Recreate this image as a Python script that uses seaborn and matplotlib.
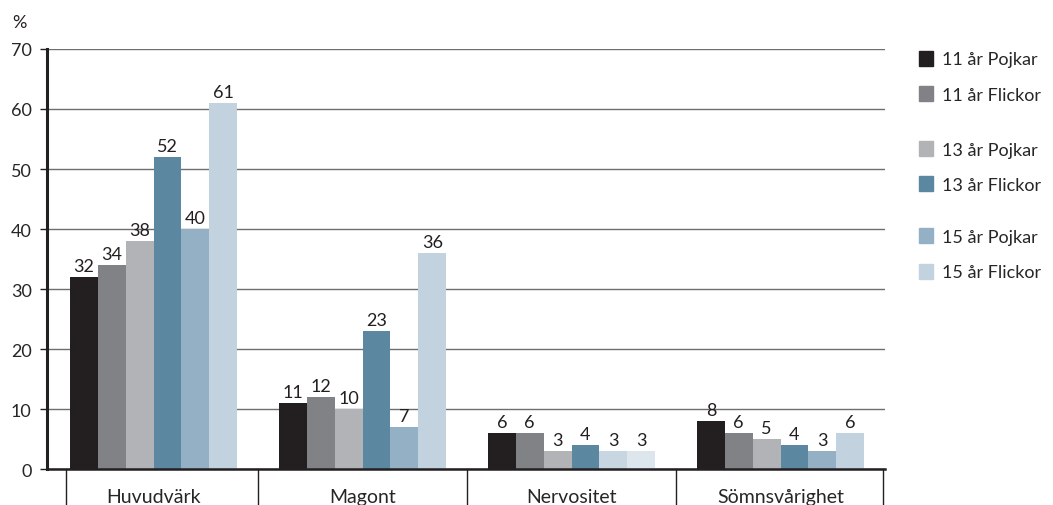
import seaborn as sns
import matplotlib.pyplot as plt
import matplotlib.patches as mpatches
import pandas as pd

# data
categories = ["Huvudvärk", "Magont", "Nervositet", "Sömnsvårighet"]
groups = ["11 år Pojkar", "11 år Flickor", "13 år Pojkar", "13 år Flickor", "15 år Pojkar", "15 år Flickor"]
values = {
    "11 år Pojkar": [32, 11, 6, 8],
    "11 år Flickor": [34, 12, 6, 6],
    "13 år Pojkar": [38, 10, 3, 5],
    "13 år Flickor": [52, 23, 4, 4],
    "15 år Pojkar": [40, 7, 3, 3],
    "15 år Flickor": [61, 36, 3, 6],
}
colors = ["#231f20", "#808285", "#b1b3b6", "#5b87a1", "#94b0c5", "#c2d2df"]

rows = []
for g in groups:
    for c, v in zip(categories, values[g]):
        rows.append({"kategori": c, "grupp": g, "procent": v})
df = pd.DataFrame(rows)

sns.set_style("white")
plt.rcParams["font.family"] = ["Lato", "DejaVu Sans"]

fig = plt.figure(figsize=(10.53, 5.06), dpi=100)
ax = fig.add_axes([0.0446, 0.0711, 0.7959, 0.8301])

sns.barplot(data=df, x="kategori", y="procent", hue="grupp", order=categories,
            hue_order=groups, palette=colors, width=0.8, saturation=1,
            linewidth=0, legend=False, ax=ax)

# the Nervositet 15 år bars are drawn lighter in the original
for cont, light in zip(ax.containers[4:], ["#c8d6e2", "#dde5ed"]):
    cont.patches[2].set_facecolor(light)

for cont in ax.containers:
    ax.bar_label(cont, fontsize=13, padding=2, color="#231f20")

ax.set_ylim(0, 70)
ax.set_xlim(-0.51, 3.5)
ax.set_yticks(range(0, 71, 10))
ax.yaxis.grid(True, color="#6d6e71", linewidth=1)
ax.set_axisbelow(True)
ax.tick_params(axis="y", length=5, width=1, color="#231f20", labelsize=13, pad=6, left=True)
ax.tick_params(axis="x", length=0, labelsize=14, pad=14)
ax.set_xlabel("")
ax.set_ylabel("")
for s in ["top", "right"]:
    ax.spines[s].set_visible(False)
ax.spines["left"].set_linewidth(2.2)
ax.spines["left"].set_color("#231f20")
ax.spines["bottom"].set_linewidth(1.8)
ax.spines["bottom"].set_color("#231f20")

# category separators below the axis
for xs in [-0.42, 0.5, 1.5, 2.5, 3.49]:
    ax.plot([xs, xs], [0, -8], color="#231f20", linewidth=1, clip_on=False)

fig.text(0.012, 0.945, "%", fontsize=13, color="#231f20")

# legend in three pairs
for i, ypos in enumerate([0.912, 0.734, 0.562]):
    handles = [mpatches.Patch(color=colors[2 * i + j], label=groups[2 * i + j]) for j in range(2)]
    fig.legend(handles=handles, loc="upper left", bbox_to_anchor=(0.866, ypos),
               frameon=False, fontsize=13, handlelength=0.75, handleheight=0.9,
               handletextpad=0.5, labelspacing=1.05, borderaxespad=0)

fig.savefig("out.png", dpi=100)
